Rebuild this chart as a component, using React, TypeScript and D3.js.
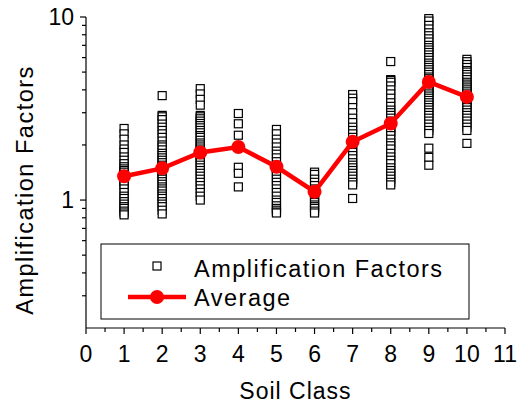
import React from 'react';
import * as d3 from 'd3';

// soil classes 1..10
const classes = [1, 2, 3, 4, 5, 6, 7, 8, 9, 10];

// amplification factors, one list per soil class
const class1 = [2.46, 2.3, 2.15, 2.0, 1.9, 1.82, 1.72, 1.65, 1.58, 1.52, 1.48, 1.45, 1.42, 1.38, 1.35, 1.3, 1.27, 1.24, 1.2, 1.15, 1.1, 1.05, 1.02, 0.98, 0.95, 0.92, 0.9, 0.87, 0.85, 0.83];
const class2 = [3.72, 2.9, 2.85, 2.75, 2.6, 2.5, 2.4, 2.3, 2.2, 2.1, 2.0, 1.95, 1.88, 1.8, 1.75, 1.7, 1.65, 1.6, 1.55, 1.5, 1.45, 1.42, 1.38, 1.33, 1.3, 1.26, 1.22, 1.18, 1.15, 1.12, 1.08, 1.05, 1.02, 0.98, 0.95, 0.92, 0.88, 0.84];
const class3 = [4.06, 3.8, 3.55, 3.3, 2.9, 2.85, 2.78, 2.7, 2.62, 2.55, 2.48, 2.4, 2.33, 2.25, 2.2, 2.12, 2.05, 2.0, 1.95, 1.9, 1.85, 1.8, 1.75, 1.7, 1.65, 1.6, 1.55, 1.5, 1.45, 1.4, 1.35, 1.3, 1.25, 1.2, 1.15, 1.1, 1.05, 1.0];
const class4 = [2.97, 2.61, 2.26, 1.51, 1.4, 1.18];
const class5 = [2.43, 2.3, 2.15, 2.05, 1.95, 1.85, 1.78, 1.7, 1.62, 1.55, 1.5, 1.45, 1.4, 1.35, 1.3, 1.25, 1.2, 1.15, 1.1, 1.05, 1.0, 0.97, 0.93, 0.9, 0.88, 0.86, 0.85];
const class6 = [1.42, 1.38, 1.3, 1.25, 1.2, 1.15, 1.1, 1.07, 1.04, 1.0, 0.97, 0.94, 0.92, 0.9, 0.87, 0.85];
const class7 = [3.77, 3.6, 3.45, 3.2, 3.0, 2.8, 2.65, 2.5, 2.4, 2.3, 2.2, 2.1, 2.0, 1.9, 1.82, 1.75, 1.68, 1.6, 1.55, 1.5, 1.45, 1.4, 1.35, 1.3, 1.25, 1.21, 1.02];
const class8 = [5.71, 4.55, 4.5, 4.4, 4.2, 4.0, 3.8, 3.6, 3.4, 3.25, 3.1, 3.0, 2.9, 2.8, 2.7, 2.6, 2.5, 2.42, 2.35, 2.25, 2.15, 2.05, 1.98, 1.9, 1.8, 1.72, 1.65, 1.58, 1.5, 1.45, 1.4, 1.35, 1.3, 1.25, 1.21];
const class9 = [9.8, 9.5, 9.0, 8.6, 8.2, 7.9, 7.6, 7.3, 7.0, 6.8, 6.6, 6.4, 6.2, 6.0, 5.8, 5.6, 5.45, 5.3, 5.15, 5.0, 4.85, 4.7, 4.6, 4.5, 4.4, 4.3, 4.2, 4.1, 4.0, 3.9, 3.8, 3.7, 3.6, 3.5, 3.4, 3.3, 3.2, 3.1, 3.0, 2.9, 2.8, 2.7, 2.6, 2.5, 2.4, 2.31, 1.92, 1.71, 1.55];
const class10 = [5.87, 5.7, 5.5, 5.3, 5.1, 5.0, 4.85, 4.7, 4.55, 4.4, 4.3, 4.2, 4.1, 4.0, 3.9, 3.8, 3.7, 3.6, 3.5, 3.4, 3.3, 3.2, 3.1, 3.0, 2.9, 2.8, 2.7, 2.6, 2.5, 2.4, 2.04];

const factors = [class1, class2, class3, class4, class5, class6, class7, class8, class9, class10];

// average per class
const averages = [1.35, 1.49, 1.82, 1.95, 1.52, 1.11, 2.08, 2.62, 4.42, 3.66];

const xTicks = [0, 1, 2, 3, 4, 5, 6, 7, 8, 9, 10, 11];
const yLabels = [1, 10];

const W = 526;
const H = 407;
const margin = { left: 86, right: 21, top: 17, bottom: 79 };
const FONT = '"Liberation Sans", Arial, sans-serif';

export default function App() {
  const x = d3.scaleLinear().domain([0, 11]).range([margin.left, W - margin.right]);
  const y = d3.scaleLog().domain([0.2, 10]).range([H - margin.bottom, margin.top]);

  const points = factors.flatMap((vals, i) => vals.map(v => ({ c: classes[i], v })));
  const avgData = classes.map((c, i) => ({ c, v: averages[i] }));

  const line = d3.line<{ c: number; v: number }>()
    .x(d => x(d.c))
    .y(d => y(d.v));

  const minorY: number[] = [];
  [0.1, 1].forEach(dec => {
    for (let k = 2; k <= 9; k++) {
      const v = k * dec;
      if (v > 0.2 && v < 10 && v !== 1) minorY.push(v);
    }
  });
  const minorX = d3.range(0.5, 11, 1);

  const x0 = margin.left;
  const yb = H - margin.bottom;
  const sq = 8;

  return (
    <svg width={W} height={H} style={{ position: 'absolute', left: 0, top: 0, background: '#fff' }}
      fontFamily={FONT}>
      {/* scatter */}
      {points.map((p, i) => (
        <rect key={i} x={x(p.c) - sq / 2} y={y(p.v) - sq / 2} width={sq} height={sq}
          fill="#fff" stroke="#000" strokeWidth={1.2} />
      ))}

      {/* average */}
      <path d={line(avgData) || ''} fill="none" stroke="#ff0000" strokeWidth={4.5} />
      {avgData.map((d, i) => (
        <circle key={i} cx={x(d.c)} cy={y(d.v)} r={7} fill="#ff0000" />
      ))}

      {/* axes */}
      <line x1={x0} x2={x0} y1={margin.top} y2={yb} stroke="#000" strokeWidth={1.2} />
      <line x1={x0} x2={W - margin.right} y1={yb} y2={yb} stroke="#000" strokeWidth={1.2} />
      {yLabels.map(v => (
        <g key={v}>
          <line x1={x0 - 6} x2={x0} y1={y(v)} y2={y(v)} stroke="#000" strokeWidth={1.2} />
          <text x={x0 - 12} y={y(v)} dy="0.36em" textAnchor="end" fontSize={23}>{v}</text>
        </g>
      ))}
      {minorY.map(v => (
        <line key={v} x1={x0 - 4} x2={x0} y1={y(v)} y2={y(v)} stroke="#000" strokeWidth={1.2} />
      ))}
      {xTicks.map(t => (
        <g key={t}>
          <line x1={x(t)} x2={x(t)} y1={yb} y2={yb + 6} stroke="#000" strokeWidth={1.2} />
          <text x={x(t)} y={362} textAnchor="middle" fontSize={23}>{t}</text>
        </g>
      ))}
      {minorX.map(t => (
        <line key={t} x1={x(t)} x2={x(t)} y1={yb} y2={yb + 4} stroke="#000" strokeWidth={1.2} />
      ))}

      <text x={(x0 + W - margin.right) / 2} y={399} textAnchor="middle" fontSize={23}
        letterSpacing={1}>Soil Class</text>
      <text transform="translate(33,190) rotate(-90)" textAnchor="middle" fontSize={23.5}
        letterSpacing={1.5}>
        Amplification Factors
      </text>

      {/* legend */}
      <rect x={101} y={244} width={368} height={75} fill="#fff" stroke="#000" strokeWidth={1} />
      <rect x={157 - sq / 2} y={266 - sq / 2} width={sq} height={sq} fill="#fff" stroke="#000" strokeWidth={1.2} />
      <text x={194} y={277} fontSize={23.5} letterSpacing={1.5}>Amplification Factors</text>
      <line x1={128} x2={186} y1={297} y2={297} stroke="#ff0000" strokeWidth={4.5} />
      <circle cx={157} cy={297} r={7} fill="#ff0000" />
      <text x={194} y={306} fontSize={23.5} letterSpacing={1.5}>Average</text>
    </svg>
  );
}
